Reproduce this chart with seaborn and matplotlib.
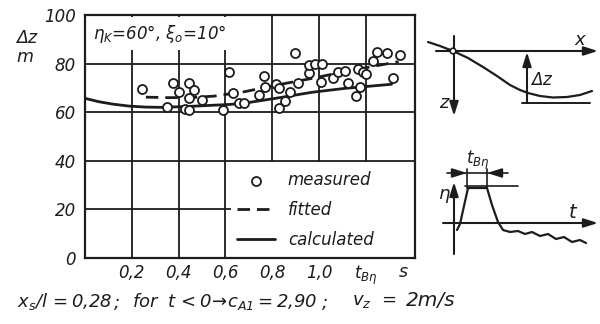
import numpy as np
import pandas as pd
import matplotlib
matplotlib.use("Agg")
import matplotlib.pyplot as plt
import seaborn as sns
from matplotlib.patches import Rectangle, Circle

# ---------------- data ----------------
measured_t = [0.245, 0.352, 0.378, 0.400, 0.428, 0.443, 0.445, 0.445, 0.467, 0.500,
              0.591, 0.614, 0.631, 0.660, 0.681, 0.745, 0.764, 0.767, 0.817, 0.831,
              0.831, 0.855, 0.874, 0.898, 0.909, 0.959, 0.959, 0.983, 1.012, 1.009,
              1.059, 1.081, 1.109, 1.123, 1.156, 1.166, 1.173, 1.188, 1.202, 1.230,
              1.248, 1.292, 1.316, 1.345]
measured_dz = [69.5, 62.3, 71.9, 68.4, 61.3, 60.9, 71.9, 65.7, 69.1, 65.0,
               60.9, 76.4, 67.8, 63.7, 63.7, 67.1, 75.0, 70.2, 71.5, 69.8,
               61.9, 64.6, 68.4, 84.5, 72.1, 76.0, 79.4, 79.8, 79.8, 72.6,
               74.0, 76.7, 77.0, 71.9, 66.7, 77.7, 70.2, 76.4, 75.6, 81.2,
               84.9, 84.2, 74.2, 83.5]
fitted_t = [0.26, 0.35, 0.45, 0.55, 0.68, 0.82, 0.97, 1.11, 1.25, 1.34]
fitted_dz = [66.2, 66.0, 66.0, 66.6, 68.4, 71.2, 73.9, 76.7, 79.2, 80.8]
calc_t = [0.0, 0.06, 0.12, 0.19, 0.26, 0.33, 0.47, 0.62, 0.68, 0.82, 0.97, 1.11, 1.31]
calc_dz = [65.7, 64.3, 63.3, 62.5, 62.1, 62.0, 62.5, 63.2, 63.7, 65.8, 68.2, 69.8, 71.5]

x_ticks = [0.2, 0.4, 0.6, 0.8, 1.0, 1.2]
x_tick_labels = ["0,2", "0,4", "0,6", "0,8", "1,0", r"$t_{B\eta}$"]
y_ticks = [0, 20, 40, 60, 80, 100]
y_tick_labels = ["0", "20", "40", "60", "80", "100"]
legend_labels = ["measured", "fitted", "calculated"]

# schematic sketch (pixel coordinates of the small drawings at right)
sk_curve_x = [428, 440, 453, 468, 483, 497, 510, 520, 528, 540, 553, 567, 580, 592]
sk_curve_y = [42, 46, 51, 58, 67, 76, 85, 90, 93, 96, 97.5, 97, 95, 91]
sk_pulse_x = [457, 460, 468, 487, 492, 498, 503, 510, 518, 525, 532, 540, 548, 556, 564, 572, 580, 586]
sk_pulse_y = [230, 224, 188, 188, 205, 222, 230, 232, 231, 234, 232, 236, 234, 239, 237, 242, 240, 243]

# ---------------- style ----------------
ink = "#1c1c1c"
sns.set_theme(style="white")
plt.rcParams["font.family"] = ["DejaVu Sans"]
plt.rcParams["font.style"] = "italic"
plt.rcParams["mathtext.fontset"] = "custom"
plt.rcParams["mathtext.it"] = "DejaVu Sans:italic"
plt.rcParams["mathtext.rm"] = "DejaVu Sans:italic"
plt.rcParams["mathtext.default"] = "it"
plt.rcParams["text.color"] = ink

W, H = 600, 324
fig = plt.figure(figsize=(6, 3.24), dpi=100, facecolor="white")
ax = fig.add_axes([85 / W, 1 - 258 / H, 330 / W, 243 / H])
ax.set_facecolor("white")

for xv in x_ticks:
    ax.axvline(xv, color=ink, lw=1.3, zorder=0.8)
for yv in [20, 40, 60, 80]:
    ax.axhline(yv, color=ink, lw=1.3, zorder=0.8)

# white area behind legend
ax.add_patch(Rectangle((0.625, 0.6), 0.79, 38.8, facecolor="white", edgecolor="none", zorder=1.5))

sns.scatterplot(x=measured_t, y=measured_dz, ax=ax, marker="o", s=42,
                facecolor="white", edgecolor=ink, linewidth=1.3, zorder=4,
                label=legend_labels[0])
sns.lineplot(x=fitted_t, y=fitted_dz, ax=ax, color=ink, lw=2.0,
             linestyle=(0, (4.5, 2.5)), errorbar=None, zorder=3, label=legend_labels[1])
sns.lineplot(x=calc_t, y=calc_dz, ax=ax, color=ink, lw=2.0,
             errorbar=None, zorder=3, label=legend_labels[2])

ax.set_xlim(0, 1.41)
ax.set_ylim(0, 100)
ax.set_xticks(x_ticks)
ax.set_xticklabels(x_tick_labels)
ax.set_yticks(y_ticks)
ax.set_yticklabels(y_tick_labels)
ax.set_xlabel("")
ax.set_ylabel("")
ax.tick_params(direction="in", length=4, width=1.2, colors=ink, labelsize=12)
ax.tick_params(axis="x", pad=4)
ax.tick_params(axis="y", pad=6.5)
for sp in ax.spines.values():
    sp.set_color(ink)
    sp.set_linewidth(1.6)

ax.text(0.035, 92.3, r"$\eta_K$=60°, $\xi_o$=10°", fontsize=12, va="center", ha="left",
        zorder=2, bbox=dict(facecolor="white", edgecolor="none", pad=4))

handles, labels = ax.get_legend_handles_labels()
leg = ax.legend(handles, labels, loc="upper left",
                bbox_to_anchor=(237 / W, 1 - 171 / H), bbox_transform=fig.transFigure,
                frameon=False, fontsize=12, handlelength=2.3, handletextpad=0.75,
                labelspacing=0.72, borderpad=0, borderaxespad=0)
leg.set_zorder(2)

# ---------------- overlay: labels and schematics ----------------
ov = fig.add_axes([0, 0, 1, 1], zorder=5)
ov.set_xlim(0, W)
ov.set_ylim(H, 0)
ov.axis("off")
ov.patch.set_alpha(0)

ov.text(27, 38, r"$\Delta z$", fontsize=12.5, ha="center", va="center")
ov.text(25, 57, "m", fontsize=12.5, ha="center", va="center")
ov.text(403, 272, "s", fontsize=12.5, ha="center", va="center")
ov.text(17, 301, r"$x_s/l\,=0{,}28$", fontsize=13, ha="left", va="center")
ov.text(114, 303, ";", fontsize=13, ha="left", va="center")
ov.text(132, 301, r"for $\;t\,<0 \!\rightarrow\! c_{A1} = 2{,}90$", fontsize=13, ha="left", va="center")
ov.text(322, 303, ";", fontsize=13, ha="left", va="center")
ov.text(352, 301, r"$v_z\;\, =$", fontsize=13, ha="left", va="center")
ov.text(406, 301, "2m/s", fontsize=14.5, ha="left", va="center")

aprops = dict(arrowstyle="-|>,head_length=0.7,head_width=0.22", lw=1.5, color=ink,
              shrinkA=0, shrinkB=0)
# upper sketch
ov.annotate("", xy=(598, 51), xytext=(436, 51), arrowprops=aprops)
ov.annotate("", xy=(454, 116), xytext=(454, 36), arrowprops=aprops)
ov.plot(sk_curve_x, sk_curve_y, color=ink, lw=1.6)
ov.add_patch(Circle((453, 51), 2.8, facecolor="white", edgecolor=ink, lw=1.2, zorder=6))
ov.plot([522, 590], [103, 103], color=ink, lw=1.4)
ov.annotate("", xy=(527, 52), xytext=(527, 103), arrowprops=aprops)
ov.text(580, 40, "x", fontsize=13, ha="center", va="center")
ov.text(444, 103, "z", fontsize=13, ha="center", va="center")
ov.text(542, 80, r"$\Delta z$", fontsize=12, ha="center", va="center")

# lower sketch
ov.annotate("", xy=(598, 223), xytext=(443, 223), arrowprops=aprops)
ov.annotate("", xy=(454, 182), xytext=(454, 254), arrowprops=aprops)
ov.plot(sk_pulse_x, sk_pulse_y, color=ink, lw=1.6)
ov.plot([465, 518], [186, 186], color=ink, lw=1.2)
ov.plot([467, 467], [169, 188], color=ink, lw=1.2)
ov.plot([487, 487], [169, 188], color=ink, lw=1.2)
ov.plot([447, 508], [173, 173], color=ink, lw=1.2)
ov.annotate("", xy=(467, 173), xytext=(452, 173), arrowprops=aprops)
ov.annotate("", xy=(487, 173), xytext=(502, 173), arrowprops=aprops)
ov.text(478, 160, r"$t_{B\eta}$", fontsize=12, ha="center", va="center")
ov.text(444, 196, r"$\eta$", fontsize=13, ha="center", va="center")
ov.text(573, 212, "t", fontsize=14, ha="center", va="center")

fig.savefig("out.png", dpi=100, facecolor="white")
